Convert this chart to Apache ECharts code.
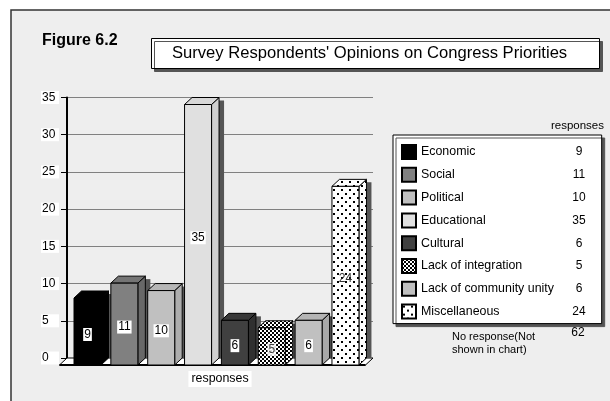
<!DOCTYPE html>
<html>
<head>
<meta charset="utf-8">
<script src="https://cdn.jsdelivr.net/npm/echarts@6/dist/echarts.min.js"></script>
<style>
  html, body { margin: 0; padding: 0; background: #fff; }
  #chart { width: 610px; height: 401px; }
</style>
</head>
<body>
<div id="chart"></div>
<script>
// data
const categories = ['Economic', 'Social', 'Political', 'Educational', 'Cultural',
  'Lack of integration', 'Lack of community unity', 'Miscellaneous'];
const responses = [9, 11, 10, 35, 6, 5, 6, 24];
const noResponse = 62;
const yMin = 0;
const yMax = 35;
const yStep = 5;

const FONT = "'Liberation Sans', Arial, Helvetica, sans-serif";
// fake 3d depth of the old spreadsheet bars
const DX = 7.5, DY = 7, BAR_W = 27;
const X_MIN = -0.76, X_MAX = 7.544;

function makePattern(size, cells) {
  const c = document.createElement('canvas');
  c.width = c.height = size;
  const ctx = c.getContext('2d');
  ctx.fillStyle = '#fff';
  ctx.fillRect(0, 0, size, size);
  ctx.fillStyle = '#000';
  cells.forEach(r => ctx.fillRect(r[0], r[1], r[2], r[3]));
  return { image: c, repeat: 'repeat' };
}
const checker = makePattern(4, [[0, 0, 2, 2], [2, 2, 2, 2]]);
const dots = makePattern(8, [[1, 1, 2, 2], [5, 5, 2, 2]]);

const frontFill = ['#000', '#808080', '#c0c0c0', '#e0e0e0', '#404040', checker, '#c0c0c0', dots];
const sideFill  = ['#000', '#686868', '#adadad', '#d0d0d0', '#303030', checker, '#a8a8a8', dots];
const topFill   = ['#000', '#747474', '#b6b6b6', '#d8d8d8', '#383838', checker, '#b4b4b4', dots];
const labelBg   = ['#fff', '#fff', '#fff', '#fff', '#fff', 'rgba(255,255,255,0.85)', '#fff', null];
const labelColor = ['#000', '#000', '#000', '#000', '#000', '#444', '#000', '#333'];

function renderBar(params, api) {
  const k = params.dataIndex;
  const v = api.value(1);
  const top = api.coord([api.value(0), v]);
  const base = api.coord([api.value(0), 0]);
  const bl = top[0] - BAR_W / 2, br = top[0] + BAR_W / 2;
  const fl = bl - DX, fr = br - DX, ft = top[1] + DY, fb = base[1] + DY;
  const edge = { stroke: '#000', lineWidth: 1 };
  return {
    type: 'group',
    children: [
      { type: 'rect', shape: { x: br, y: top[1] + 3, width: 5, height: base[1] - top[1] - 3 },
        style: { fill: '#555' } },
      { type: 'polygon', shape: { points: [[fr, ft], [br, top[1]], [br, base[1]], [fr, fb]] },
        style: Object.assign({ fill: sideFill[k] }, edge) },
      { type: 'polygon', shape: { points: [[fl, ft], [bl, top[1]], [br, top[1]], [fr, ft]] },
        style: Object.assign({ fill: topFill[k] }, edge) },
      { type: 'rect', shape: { x: fl, y: ft, width: fr - fl, height: fb - ft },
        style: Object.assign({ fill: frontFill[k] }, edge) },
      { type: 'text', style: {
          text: String(v), x: (fl + fr) / 2, y: (ft + fb) / 2 + 3,
          align: 'center', verticalAlign: 'middle',
          fontSize: 12, fontFamily: FONT, fill: labelColor[k],
          backgroundColor: labelBg[k], padding: [1, 1, 0, 1]
        } }
    ]
  };
}

function renderFloor(params, api) {
  const l = api.coord([X_MIN, 0]);
  const r = api.coord([X_MAX, 0]);
  return {
    type: 'group',
    children: [
      { type: 'polygon',
        shape: { points: [[l[0], l[1]], [r[0], r[1]], [r[0] - DX, r[1] + DY], [l[0] - DX, l[1] + DY]] },
        style: { fill: '#fff', stroke: '#000', lineWidth: 1 } },
      { type: 'line', shape: { x1: l[0] - DX, y1: l[1] + DY, x2: r[0] - DX, y2: r[1] + DY },
        style: { stroke: '#000', lineWidth: 2 } }
    ]
  };
}

const chart = echarts.init(document.getElementById('chart'));

const legendSeries = categories.map((name, k) => ({
  type: 'bar', name: name, data: [],
  itemStyle: { color: frontFill[k], borderColor: '#000', borderWidth: 1 }
}));

chart.setOption({
  animation: false,
  backgroundColor: '#fff',
  title: [
    { text: 'Figure 6.2', left: 42, top: 33, padding: 0,
      textStyle: { fontFamily: FONT, fontSize: 16, fontWeight: 'bold', color: '#000' } },
    { text: "Survey Respondents' Opinions on Congress Priorities", left: 151, top: 38,
      padding: [7, 0, 7, 21], backgroundColor: '#fff', borderColor: '#000', borderWidth: 1,
      shadowColor: '#555', shadowOffsetX: 3, shadowOffsetY: 3, shadowBlur: 0,
      textStyle: { fontFamily: FONT, fontSize: 16.6, fontWeight: 'normal', color: '#000',
        lineHeight: 17, width: 428, overflow: 'none' } }
  ],
  legend: {
    orient: 'vertical', left: 393, top: 135,
    padding: [9, 16, 4, 8], itemGap: 6.8, itemWidth: 14, itemHeight: 14,
    backgroundColor: '#fff', borderColor: '#000', borderWidth: 1,
    shadowColor: '#555', shadowOffsetX: 3, shadowOffsetY: 3, shadowBlur: 0,
    selectedMode: false, icon: 'rect',
    data: categories,
    formatter: name => '{n|' + name + '}{v|' + responses[categories.indexOf(name)] + '}',
    textStyle: {
      fontFamily: FONT, fontSize: 12.4, color: '#000',
      rich: {
        n: { width: 150, fontFamily: FONT, fontSize: 12.4 },
        v: { width: 16, align: 'center', fontFamily: FONT, fontSize: 12 }
      }
    }
  },
  grid: { left: 67, top: 97.5, width: 306, height: 260.5 },
  xAxis: {
    type: 'value', min: X_MIN, max: X_MAX,
    axisLine: { show: false }, axisTick: { show: false },
    axisLabel: { show: false }, splitLine: { show: false },
    name: 'responses', nameLocation: 'middle', nameGap: 13,
    nameTextStyle: { fontFamily: FONT, fontSize: 12.4, color: '#000',
      backgroundColor: '#fff', padding: [2, 3, 2, 3], verticalAlign: 'top' }
  },
  yAxis: {
    type: 'value', min: yMin, max: yMax, interval: yStep,
    axisLine: { show: true, onZero: false, lineStyle: { color: '#000', width: 2 } },
    axisTick: { show: true, length: 6, lineStyle: { color: '#000' } },
    axisLabel: { align: 'left', margin: 26, fontFamily: FONT, fontSize: 12, color: '#000',
      backgroundColor: '#fff', width: 16, padding: [1, 1, 0, 1] },
    splitLine: { lineStyle: { color: '#808080', width: 1 } }
  },
  graphic: [
    { type: 'rect', z: -100, silent: true, shape: { x: 11, y: 10, width: 640, height: 420 },
      style: { fill: '#eeeeee', stroke: '#333', lineWidth: 1.5 } },
    { type: 'text', x: 604, y: 126, style: { text: 'responses', align: 'right', verticalAlign: 'middle',
      fontFamily: FONT, fontSize: 11.5, fill: '#000' } },
    { type: 'text', x: 452, y: 330, style: { text: 'No response(Not\nshown in chart)', align: 'left',
      verticalAlign: 'top', fontFamily: FONT, fontSize: 11, lineHeight: 13, fill: '#000' } },
    { type: 'text', x: 578, y: 333, style: { text: String(noResponse), align: 'center', verticalAlign: 'middle',
      fontFamily: FONT, fontSize: 12, fill: '#000' } }
  ],
  series: [
    { type: 'custom', name: 'floor', renderItem: renderFloor, data: [[0, 0]], silent: true },
    { type: 'custom', name: 'responses', renderItem: renderBar, silent: true,
      data: responses.map((v, i) => [i, v]) }
  ].concat(legendSeries)
});
</script>
</body>
</html>
